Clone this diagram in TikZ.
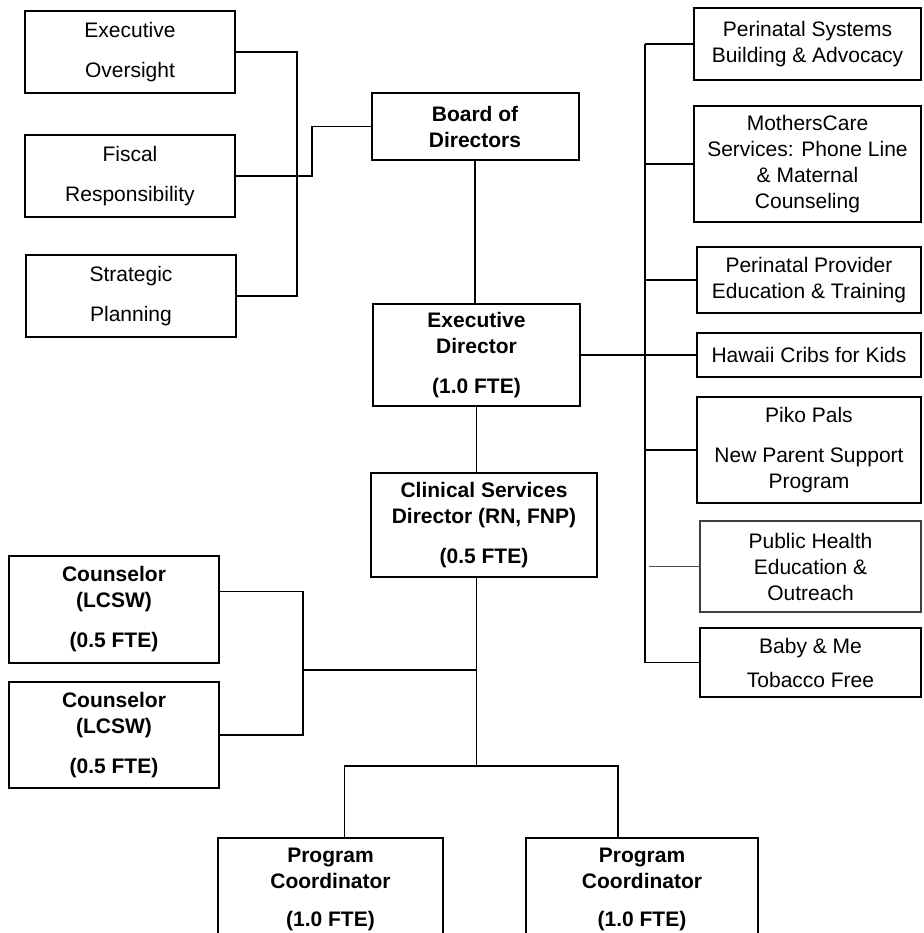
\documentclass[tikz,border=0pt]{standalone}
\usepackage{fontspec}
\setmainfont{Liberation Sans}
\usetikzlibrary{calc}

\begin{document}
\begin{tikzpicture}[x=0.5pt, y=-0.5pt,
    box/.style={draw, line width=1pt, align=center, inner sep=0pt, font=\fontsize{10.5}{13}\selectfont},
    boldbox/.style={box, font=\fontsize{10.5}{13}\selectfont\bfseries},
    link/.style={line width=0.6pt}]
      \useasboundingbox (0, 0) rectangle (923, 933);
      \clip (0, 0) rectangle (923, 933);

      % left column
      \node[box, minimum width=105pt, minimum height=41pt] (exov) at (130, 52) {Executive\\[7pt]Oversight};
      \node[box, minimum width=105pt, minimum height=41pt] (fisc) at (130, 176) {Fiscal\\[7pt]Responsibility};
      \node[box, minimum width=105pt, minimum height=41pt] (strat) at (131, 296) {Strategic\\[7pt]Planning};

      % centre column
      \node[boldbox, minimum width=103.5pt, minimum height=33.5pt] (board) at (475, 126.5) {Board of\\Directors};
      \node[boldbox, minimum width=103.5pt, minimum height=51pt] (exdir) at (476.5, 355) {Executive\\Director\\[7pt](1.0 FTE)};
      \node[boldbox, minimum width=113pt, minimum height=52pt] (clin) at (484, 525) {Clinical Services\\Director (RN, FNP)\\[7pt](0.5 FTE)};
      \node[boldbox, minimum width=105pt, minimum height=53.5pt] (couns1) at (114, 609.5) {Counselor\\(LCSW)\\[7pt](0.5 FTE)};
      \node[boldbox, minimum width=105pt, minimum height=53pt] (couns2) at (114, 735) {Counselor\\(LCSW)\\[7pt](0.5 FTE)};
      \node[boldbox, minimum width=112.5pt, minimum height=51pt] (pc1) at (330.5, 889) {Program\\Coordinator\\[6pt](1.0 FTE)};
      \node[boldbox, minimum width=116pt, minimum height=51pt] (pc2) at (642, 889) {Program\\Coordinator\\[6pt](1.0 FTE)};

      % right column
      \node[box, minimum width=113.5pt, minimum height=36pt] (psys) at (807.5, 44) {Perinatal Systems\\Building \& Advocacy};
      \node[box, minimum width=113.5pt, minimum height=58pt] (mcare) at (807.5, 164) {MothersCare\\Services: Phone Line\\\& Maternal\\Counseling};
      \node[box, minimum width=112pt, minimum height=33pt] (prov) at (809, 280) {Perinatal Provider\\Education \& Training};
      \node[box, minimum width=112pt, minimum height=22pt] (cribs) at (809, 355) {Hawaii Cribs for Kids};
      \node[box, minimum width=112pt, minimum height=53pt] (piko) at (809, 450) {Piko Pals\\[7pt]New Parent Support\\Program};
      \node[box, draw=black!75, line width=0.8pt, minimum width=110.5pt, minimum height=45.5pt] (pubh) at (810.5, 566.5) {Public Health\\Education \&\\Outreach};
      \node[box, minimum width=110.5pt, minimum height=34.5pt] (baby) at (810.5, 662.5) {Baby \& Me\\[4pt]Tobacco Free};

      \coordinate (ltrunk) at (297, 0);
      \coordinate (fbend) at (312, 0);
      \coordinate (rtrunk) at (645, 0);
      \coordinate (split) at (exdir.south |- 0,766);
      \coordinate (cjoin) at (303, 670);

      % board and its committees
      \draw[link] (exov.east) -| (ltrunk |- strat.east) -- (strat.east);
      \draw[link] (fisc.east) -| (fbend |- board.west) -- (board.west);
      \draw[link] (board.south) -- (board.south |- exdir.north);

      % programs
      \draw[link] (exdir) -- (cribs);
      \draw[link] (psys.west -| rtrunk) -- (baby.west -| rtrunk);
      \draw[link] (psys.west) -- (psys.west -| rtrunk);
      \draw[link] (mcare.west) -- (mcare.west -| rtrunk);
      \draw[link] (prov.west) -- (prov.west -| rtrunk);
      \draw[link] (piko.west) -- (piko.west -| rtrunk);
      \draw[link, black!70, shorten >=2pt] (pubh.west) -- (pubh.west -| rtrunk);
      \draw[link] (baby.west) -- (baby.west -| rtrunk);

      % staff
      \draw[link] (exdir.south) -- (exdir.south |- clin.north);
      \draw[link] (exdir.south |- clin.south) -- (split);
      \draw[link] ([yshift=9pt]couns1.east) -| (cjoin |- couns2.east) -- (couns2.east);
      \draw[link] (cjoin) -- (cjoin -| split);
      \draw[link] ([xshift=7pt]pc1.north) |- (split) -| ([xshift=-12pt]pc2.north);
    \end{tikzpicture}
\end{document}
